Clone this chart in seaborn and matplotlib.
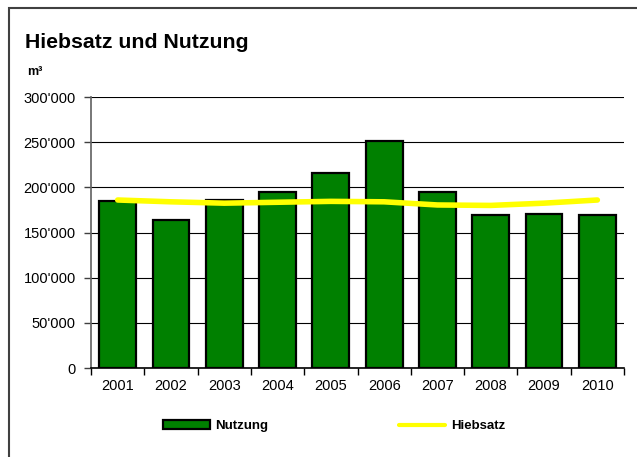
import matplotlib
matplotlib.use('Agg')
import matplotlib.pyplot as plt
import seaborn as sns
import pandas as pd
from matplotlib.patches import Patch, Rectangle
from matplotlib.lines import Line2D
from matplotlib.ticker import FuncFormatter, MultipleLocator

years = ['2001', '2002', '2003', '2004', '2005', '2006', '2007', '2008', '2009', '2010']
nutzung = [184500, 164000, 186000, 194500, 216000, 251500, 195000, 169000, 170500, 169000]
hiebsatz = [186000, 184000, 182500, 183500, 184500, 184000, 180500, 180000, 182500, 186000]

df = pd.DataFrame({'Jahr': years, 'Nutzung': nutzung, 'Hiebsatz': hiebsatz})

sns.set_style('white')
plt.rcParams['font.family'] = ['Liberation Sans', 'DejaVu Sans']
plt.rcParams['text.color'] = 'black'
plt.rcParams['xtick.color'] = 'black'
plt.rcParams['ytick.color'] = 'black'

fig = plt.figure(figsize=(6.37, 4.57), dpi=100)
ax = fig.add_axes([0.1429, 0.1947, 0.8367, 0.593])

# horizontal grid lines behind bars
ax.set_axisbelow(True)
ax.yaxis.grid(True, color='black', linewidth=0.8)

sns.barplot(data=df, x='Jahr', y='Nutzung', color='#008000', saturation=1,
            edgecolor='black', linewidth=1.6, width=0.69, ax=ax)
sns.lineplot(x=range(len(years)), y=hiebsatz, color='#FFFF00', linewidth=4,
             ax=ax, zorder=5)

ax.set_xlim(-0.5, 9.5)
ax.set_ylim(0, 300000)
ax.yaxis.set_major_locator(MultipleLocator(50000))
ax.yaxis.set_major_formatter(FuncFormatter(lambda v, p: f"{int(v):,}".replace(',', "'")))
ax.set_xlabel('')
ax.set_ylabel('')

# ticks between categories on x
ax.set_xticks([i + 0.5 for i in range(-1, 10)], minor=True)
ax.tick_params(axis='x', which='major', length=0, labelsize=10.5, pad=8)
ax.tick_params(axis='x', which='minor', length=5, width=1, color='black', direction='out', bottom=True)
ax.tick_params(axis='y', length=5, width=1, color='#404040', direction='out', left=True, labelsize=10.5, pad=6)

for s in ['top', 'right']:
    ax.spines[s].set_visible(False)
ax.spines['left'].set_color('#606060')
ax.spines['left'].set_linewidth(1.2)
ax.spines['bottom'].set_color('black')
ax.spines['bottom'].set_linewidth(1.2)

fig.text(25 / 637, 1 - 42 / 457, 'Hiebsatz und Nutzung', fontsize=15.3,
         fontweight='bold', va='center', ha='left')
fig.text(27 / 637, 1 - 72 / 457, 'm³', fontsize=9, fontweight='bold',
         va='center', ha='left')

handles = [Patch(facecolor='#008000', edgecolor='black', linewidth=1.6),
           Line2D([], [], color='#FFFF00', linewidth=3)]
fig.legend(handles, ['Nutzung', 'Hiebsatz'], loc='center', ncol=2,
           bbox_to_anchor=(0.525, 1 - 426 / 457), frameon=False,
           prop={'weight': 'bold', 'size': 9.5}, handlelength=3.5,
           handletextpad=0.45, columnspacing=9.9)

# outer chart frame (cropped at right and bottom)
fig.patches.append(Rectangle((9 / 637, -0.1), 1.0, 1 - 8 / 457 + 0.1,
                             transform=fig.transFigure, fill=False,
                             edgecolor='#404040', linewidth=1.5))

fig.savefig('out.png', dpi=100, facecolor='white')
